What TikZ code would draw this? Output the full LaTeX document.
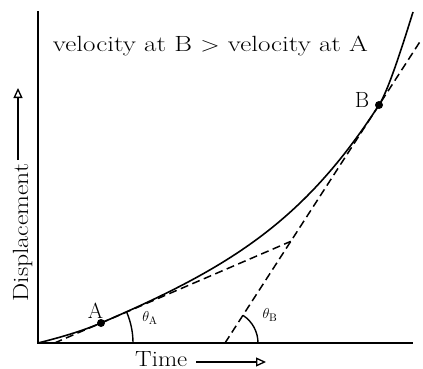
\documentclass[tikz,border=0pt]{standalone}
\usetikzlibrary{arrows.meta,calc}
\begin{document}
\begin{tikzpicture}[x=1pt,y=-1pt,
  axis/.style={line width=1.8pt},
  curveline/.style={line width=1.6pt},
  tangent/.style={line width=1.5pt,dash pattern=on 8pt off 4.5pt},
  anglearc/.style={line width=1.4pt},
  dotnode/.style={circle,fill=black,inner sep=0pt,minimum size=8pt},
  bigtext/.style={font=\fontsize{22}{26}\selectfont,inner sep=0pt},
  smalltext/.style={font=\fontsize{15}{18}\selectfont,inner sep=0pt},
  labarrow/.style={line width=1.3pt,-{Triangle[open,length=10pt,width=9pt,line width=1.3pt]}}]
\useasboundingbox (0,0) rectangle (423,369);
% axes
\coordinate (O) at (38,343);
\coordinate (ytop) at (38,11);
\coordinate (xend) at (413,343);
\draw[axis] (ytop) -- (O) -- (xend);
% points
\coordinate (A) at (101,323);
\coordinate (B) at (379,105);
\coordinate (T) at (413,12);
\coordinate (TA) at (54.5,343);
\coordinate (TB) at (225,343);
\coordinate (X) at (intersection of TA--A and TB--B);
\coordinate (BE) at ($(TB)!1.266!(B)$);
% curve
\draw[curveline] (O) .. controls (58,338) and (81,331.6) .. (A)
  .. controls (231,267.1) and (304,220.9) .. (B)
  .. controls (389,89.5) and (405,37.6) .. (T);
% tangents
\draw[tangent] (TA) -- (X);
\draw[tangent] (TB) -- (BE);
% angle arcs
\draw[anglearc] ($(TA)+(78.5,0)$) arc[start angle=0,end angle=-23.3,radius=78.5];
\draw[anglearc] ($(TB)+(33,0)$) arc[start angle=0,end angle=-57,radius=33];
% dots
\node[dotnode] (dA) at (A) {};
\node[dotnode] (dB) at (B) {};
% labels
\node[bigtext,anchor=base] (title) at (210.5,52) {\scalebox{1.23}[1]{velocity at B $>$ velocity at A}};
\node[bigtext,anchor=base] (labA) at (95.5,318) {A};
\node[bigtext,anchor=base] (labB) at (362,107) {B};
\node[smalltext] (thA) at (150,318) {$\theta_{\mathrm{A}}$};
\node[smalltext] (thB) at (270,315) {$\theta_{\mathrm{B}}$};
\node[bigtext,anchor=base,rotate=90] (disp) at (28,232.5) {\scalebox{1.17}[1]{Displacement}};
\node[bigtext,anchor=base west] (time) at (135,366) {\scalebox{1.13}[1]{Time}};
% label arrows
\coordinate (ds) at (18,160);
\coordinate (de) at (18,88);
\draw[labarrow] (ds) -- (de);
\coordinate (ts) at (196,362);
\coordinate (te) at (266,362);
\draw[labarrow] (ts) -- (te);
\end{tikzpicture}
\end{document}
